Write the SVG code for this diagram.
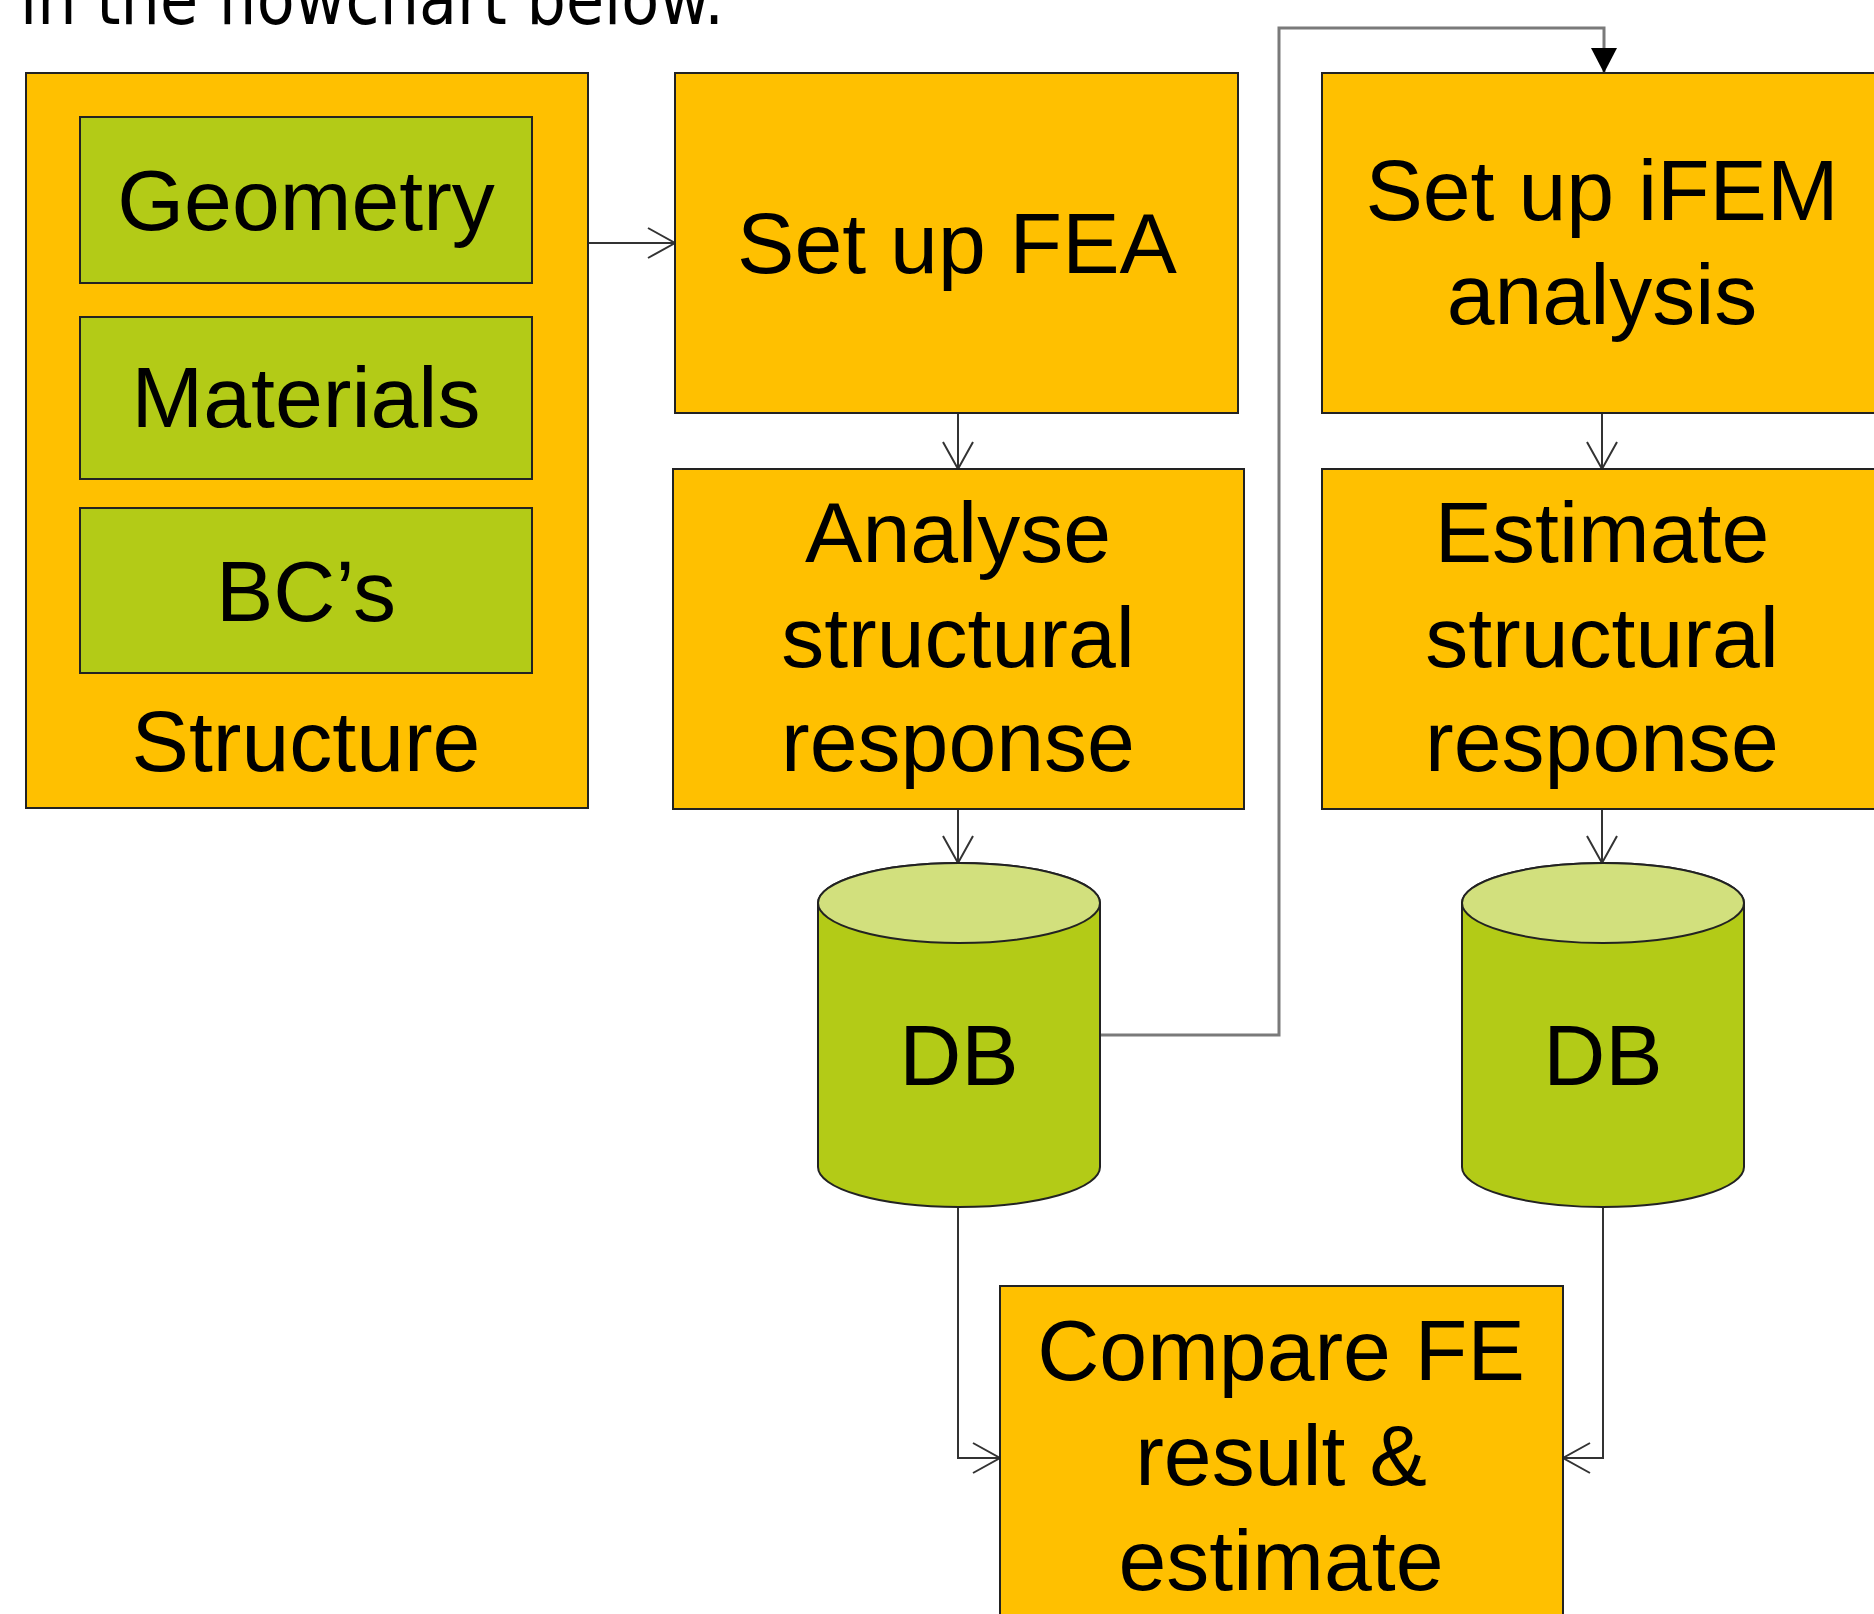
<svg xmlns="http://www.w3.org/2000/svg" width="1874" height="1614" viewBox="0 0 1874 1614">
<style>
.box{fill:#FFC000;stroke:#222;stroke-width:2}
.sub{fill:#B3CB17;stroke:#222;stroke-width:2}
.cylb{fill:#B3CB17;stroke:#222;stroke-width:2}
.cylt{fill:#D2E07D;stroke:#222;stroke-width:2}
.t{font-family:"Liberation Sans",Arial,sans-serif;font-size:86px;fill:#000;text-anchor:middle}
.c{fill:none;stroke:#333;stroke-width:2}
.g{fill:none;stroke:#7a7a7a;stroke-width:3}
</style>
<defs>
<marker id="open" markerUnits="userSpaceOnUse" markerWidth="32" markerHeight="36" refX="29" refY="17" orient="auto" viewBox="0 0 32 36">
<path d="M2,2 L29,17 L2,32" fill="none" stroke="#333" stroke-width="2"/>
</marker>
<marker id="fill" markerUnits="userSpaceOnUse" markerWidth="26" markerHeight="28" refX="25" refY="14" orient="auto" viewBox="0 0 26 28">
<path d="M0,1 L25,14 L0,27 Z" fill="#000"/>
</marker>
</defs>
<text x="20" y="24" font-family="DejaVu Sans, Verdana, sans-serif" font-size="72" textLength="704" lengthAdjust="spacingAndGlyphs">in the flowchart below.</text>
<g id="connectors">
<path class="c" d="M588 243 L675 243" marker-end="url(#open)"/>
<path class="c" d="M958 413 L958 469" marker-end="url(#open)"/>
<path class="c" d="M1602 413 L1602 469" marker-end="url(#open)"/>
<path class="c" d="M958 809 L958 863" marker-end="url(#open)"/>
<path class="c" d="M1602 809 L1602 863" marker-end="url(#open)"/>
<path class="g" d="M1100 1035 L1279 1035 L1279 28 L1604 28 L1604 73" marker-end="url(#fill)"/>
<path class="c" d="M958 1207 L958 1458 L1000 1458" marker-end="url(#open)"/>
<path class="c" d="M1603 1207 L1603 1458 L1563 1458" stroke="#555" marker-end="url(#open)"/>
</g>
<g id="structure">
<rect class="box" x="26" y="73" width="562" height="735"/>
<text class="t" x="306" y="771">Structure</text>
</g>
<g id="geometry">
<rect class="sub" x="80" y="117" width="452" height="166"/>
<text class="t" x="306" y="230">Geometry</text>
</g>
<g id="materials">
<rect class="sub" x="80" y="317" width="452" height="162"/>
<text class="t" x="306" y="427">Materials</text>
</g>
<g id="bcs">
<rect class="sub" x="80" y="508" width="452" height="165"/>
<text class="t" x="306" y="621">BC’s</text>
</g>
<g id="setup-fea">
<rect class="box" x="675" y="73" width="563" height="340"/>
<text class="t" x="957" y="273">Set up FEA</text>
</g>
<g id="setup-ifem">
<rect class="box" x="1322" y="73" width="562" height="340"/>
<text class="t" x="1602" y="220">Set up iFEM</text>
<text class="t" x="1602" y="324">analysis</text>
</g>
<g id="analyse">
<rect class="box" x="673" y="469" width="571" height="340"/>
<text class="t" x="958" y="562">Analyse</text>
<text class="t" x="958" y="667">structural</text>
<text class="t" x="958" y="771">response</text>
</g>
<g id="estimate">
<rect class="box" x="1322" y="469" width="562" height="340"/>
<text class="t" x="1602" y="562">Estimate</text>
<text class="t" x="1602" y="667">structural</text>
<text class="t" x="1602" y="771">response</text>
</g>
<g id="db1">
<path class="cylb" d="M818 903 A141 40 0 0 1 1100 903 L1100 1167 A141 40 0 0 1 818 1167 Z"/>
<ellipse class="cylt" cx="959" cy="903" rx="141" ry="40"/>
<text class="t" x="959" y="1085">DB</text>
</g>
<g id="db2">
<path class="cylb" d="M1462 903 A141 40 0 0 1 1744 903 L1744 1167 A141 40 0 0 1 1462 1167 Z"/>
<ellipse class="cylt" cx="1603" cy="903" rx="141" ry="40"/>
<text class="t" x="1603" y="1085">DB</text>
</g>
<g id="compare">
<rect class="box" x="1000" y="1286" width="563" height="340"/>
<text class="t" x="1281" y="1380">Compare FE</text>
<text class="t" x="1281" y="1485">result &amp;</text>
<text class="t" x="1281" y="1590">estimate</text>
</g>
</svg>
